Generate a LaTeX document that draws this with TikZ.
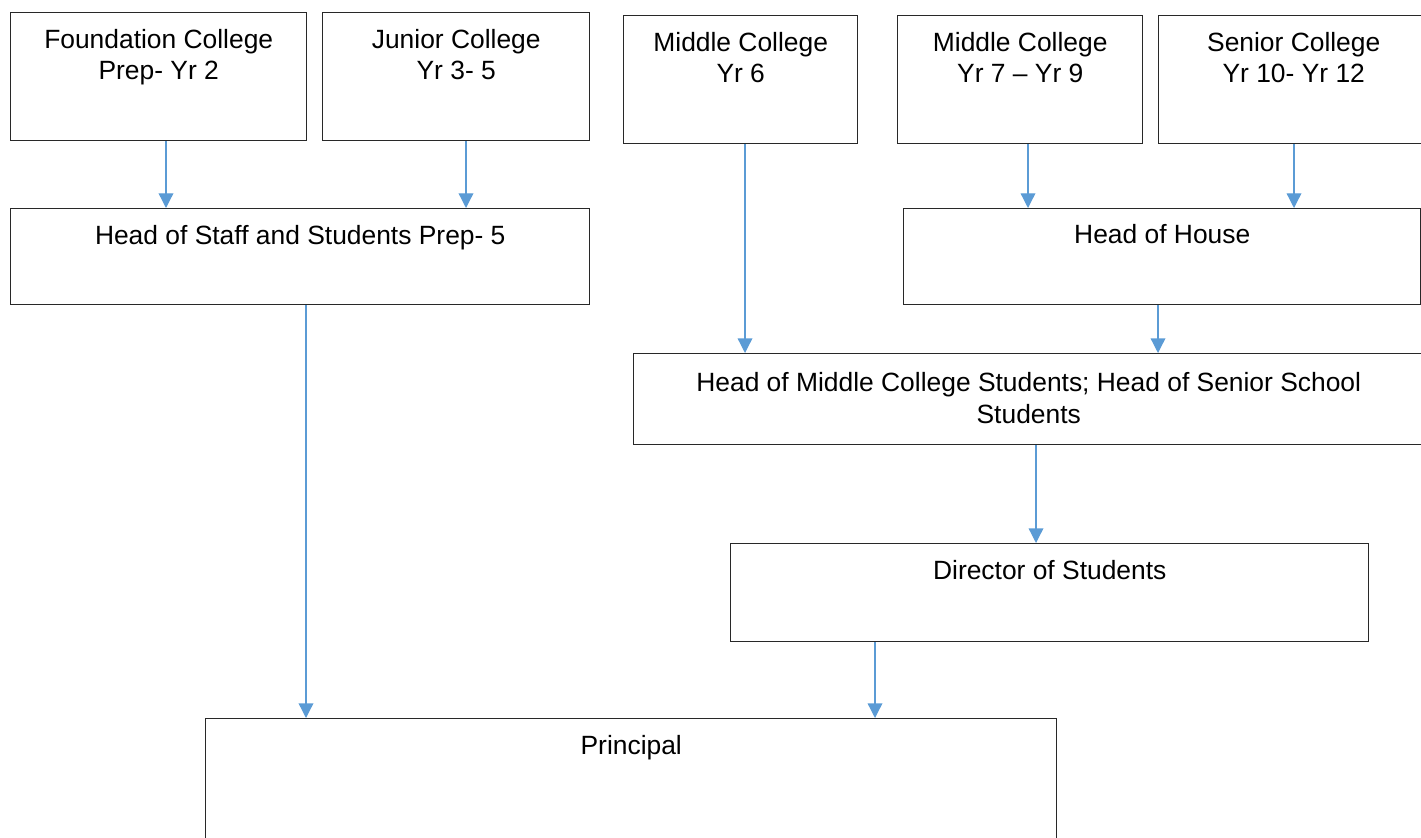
\documentclass[tikz,border=0pt]{standalone}
\usepackage{fontspec}
\setmainfont{Liberation Sans}
\usetikzlibrary{arrows.meta,positioning}

\definecolor{linkblue}{RGB}{91,155,213}
\definecolor{boxline}{RGB}{40,40,40}

\tikzset{every picture/.style={line width=0.75pt}}
\tikzset{
  unit/.style={draw=boxline, line width=1.1pt, rectangle, inner sep=0pt, anchor=north west},
  caption/.style={inner sep=0pt, anchor=north, align=center, font=\fontsize{19.8}{23.5}\selectfont},
  link/.style={draw=linkblue, line width=1pt, -{Triangle[width=11pt,length=11pt]}}
}

\begin{document}
\begin{tikzpicture}[x=0.75pt,y=0.75pt,yscale=-1,xscale=1]
%set diagram left start at 0, and has height of 838
\clip (0,0) rectangle (1421,838);

%Boxes, top row
\node[unit, minimum width=222pt, minimum height=96pt] (found) at (10,12) {};
\node[unit, minimum width=200.25pt, minimum height=96pt] (junior) at (322,12) {};
\node[unit, minimum width=175.5pt, minimum height=96pt] (midsix) at (623,15) {};
\node[unit, minimum width=183.75pt, minimum height=96pt] (midseven) at (897,15) {};
\node[unit, minimum width=202.5pt, minimum height=96pt] (senior) at (1158,15) {};

%Boxes, heads
\node[unit, minimum width=434.25pt, minimum height=72pt] (staff) at (10,208) {};
\node[unit, minimum width=387.75pt, minimum height=72pt] (house) at (903,208) {};
\node[unit, minimum width=592.5pt, minimum height=68.25pt] (headmid) at (633,353) {};
\node[unit, minimum width=478.5pt, minimum height=73.5pt] (director) at (730,543) {};
\node[unit, minimum width=638.25pt, minimum height=105pt] (principal) at (205,718) {};

% Text Node
\node[caption, below=12.5pt of found.north] (foundtxt) {Foundation College\\Prep- Yr 2};
% Text Node
\node[caption, below=12.5pt of junior.north] (juniortxt) {Junior College\\Yr 3- 5};
% Text Node
\node[caption, below=12.5pt of midsix.north] (midsixtxt) {Middle College\\Yr 6};
% Text Node
\node[caption, below=12.5pt of midseven.north] (midseventxt) {Middle College\\Yr 7 -- Yr 9};
% Text Node
\node[caption, below=12.5pt of senior.north] (seniortxt) {Senior College\\Yr 10- Yr 12};
% Text Node
\node[caption, below=12.5pt of staff.north] (stafftxt) {Head of Staff and Students Prep- 5};
% Text Node
\node[caption, below=12pt of house.north] (housetxt) {Head of House};
% Text Node
\node[caption, below=14.5pt of headmid.north] (headmidtxt) {Head of Middle College Students; Head of Senior School\\Students};
% Text Node
\node[caption, below=12.5pt of director.north] (directortxt) {Director of Students};
% Text Node
\node[caption, below=12.5pt of principal.north] (principaltxt) {Principal};

%Straight Lines
\draw[link] (found.south -| 166,0) -- (staff.north -| 166,0);
\draw[link] (junior.south -| 466,0) -- (staff.north -| 466,0);
\draw[link] (midsix.south -| 745,0) -- (headmid.north -| 745,0);
\draw[link] (midseven.south -| 1028,0) -- (house.north -| 1028,0);
\draw[link] (senior.south -| 1294,0) -- (house.north -| 1294,0);
\draw[link] (house.south -| 1158,0) -- (headmid.north -| 1158,0);
\draw[link] (headmid.south -| 1036,0) -- (director.north -| 1036,0);
\draw[link] (staff.south -| 306,0) -- (principal.north -| 306,0);
\draw[link] (director.south -| 875,0) -- (principal.north -| 875,0);

\end{tikzpicture}
\end{document}
